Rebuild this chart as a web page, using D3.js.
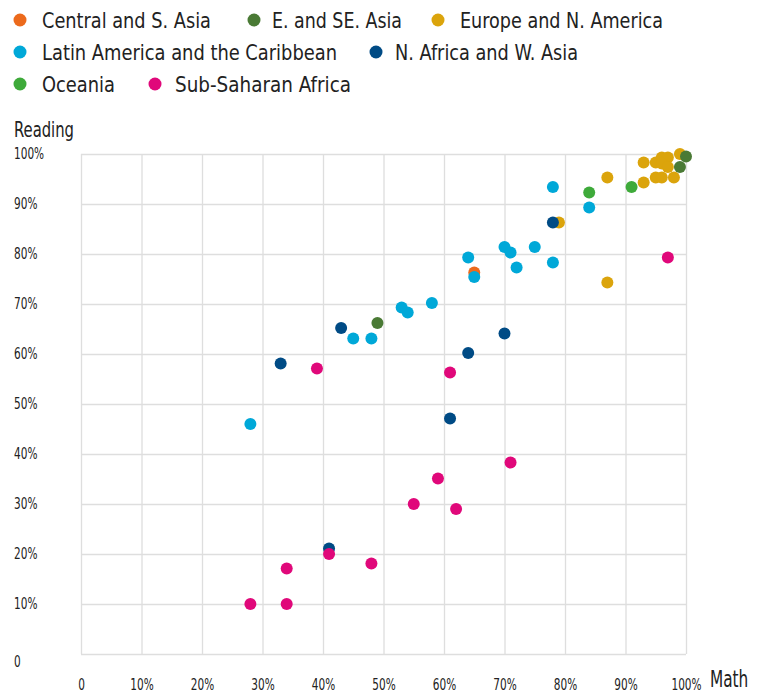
<!DOCTYPE html>
<html>
<head>
<meta charset="utf-8">
<script src="https://cdn.jsdelivr.net/npm/d3@7/dist/d3.min.js"></script>
<style>
  html, body { margin: 0; padding: 0; background: #fff; }
  svg { display: block; }
  text { font-family: "Liberation Sans Narrow", "DejaVu Sans Condensed", "Roboto", sans-serif; fill: #222; }
</style>
</head>
<body>
<svg id="chart" width="757" height="693"></svg>
<script>
// Regions, legend order and colours
const regions = [
  "Central and S. Asia", "E. and SE. Asia", "Europe and N. America",
  "Latin America and the Caribbean", "N. Africa and W. Asia",
  "Oceania", "Sub-Saharan Africa"
];
const regionColors = ["#ec6a1c", "#4a7a35", "#dba40c", "#00a8d8", "#004b85", "#3eaa3a", "#e0087a"];

// Share of students reaching minimum proficiency, [math %, reading %] per country
const centralSAsia = [[65, 76.3]];
const eastSEAsia = [[49, 66.2], [100, 99.5], [99, 97.4]];
const europeNAmerica = [
  [79, 86.3], [87, 95.3], [87, 74.3], [93, 98.3], [93, 94.3], [95, 98.3], [96, 99.3],
  [97, 99.3], [96, 98.1], [97, 97.4], [95, 95.3], [96, 95.3], [98, 95.3], [99, 100]
];
const latinAmerica = [
  [28, 46], [45, 63.1], [48, 63.1], [53, 69.3], [54, 68.3], [58, 70.2], [64, 79.3],
  [65, 75.4], [70, 81.4], [71, 80.3], [72, 77.3], [75, 81.4], [78, 78.3], [78, 93.4], [84, 89.3]
];
const nAfricaWAsia = [[33, 58.1], [43, 65.2], [64, 60.2], [70, 64.1], [61, 47.1], [41, 21.1], [78, 86.3]];
const oceania = [[84, 92.3], [91, 93.4]];
const subSaharanAfrica = [
  [28, 10], [34, 10], [34, 17.1], [41, 20], [48, 18.1], [55, 30], [59, 35.1],
  [62, 29], [71, 38.3], [39, 57.1], [61, 56.3], [97, 79.3]
];

const seriesByRegion = [centralSAsia, eastSEAsia, europeNAmerica, latinAmerica, nAfricaWAsia, oceania, subSaharanAfrica];
// Painting order (later on top)
const drawOrder = [2, 0, 1, 3, 4, 5, 6];

const tickValues = [0, 10, 20, 30, 40, 50, 60, 70, 80, 90, 100];
const tickLabel = v => v === 0 ? "0" : v + "%";

const svg = d3.select("#chart");
const plot = { left: 81, right: 686, top: 154, bottom: 654 };

const x = d3.scaleLinear().domain([0, 100]).range([plot.left, plot.right]);
const y = d3.scaleLinear().domain([0, 100]).range([plot.bottom, plot.top]);

// Squeeze a text element horizontally to mimic a condensed face
function condense(sel, factor) {
  sel.each(function () {
    const w = this.getComputedTextLength();
    d3.select(this).attr("textLength", w * factor).attr("lengthAdjust", "spacingAndGlyphs");
  });
}

// Vertical gridlines + x tick labels
const xAxis = svg.append("g")
  .attr("transform", `translate(0,${plot.bottom})`)
  .call(d3.axisBottom(x).tickValues(tickValues).tickFormat(tickLabel)
    .tickSize(-(plot.bottom - plot.top)).tickPadding(25));
xAxis.select(".domain").remove();
xAxis.selectAll("line").attr("stroke", "#dedede").attr("stroke-width", 1.3);
xAxis.selectAll("text").style("font-size", "15px").attr("fill", "#222").call(condense, 0.78);

// Horizontal gridlines + y tick labels
const yAxis = svg.append("g")
  .attr("transform", `translate(${plot.left},0)`)
  .call(d3.axisLeft(y).tickValues(tickValues).tickFormat(tickLabel)
    .tickSize(-(plot.right - plot.left)).tickPadding(0));
yAxis.select(".domain").remove();
yAxis.selectAll("line").attr("stroke", "#dedede").attr("stroke-width", 1.3);
yAxis.selectAll("text")
  .attr("text-anchor", "start")
  .attr("x", 14 - plot.left)
  .attr("dy", d => d === 0 ? "0.85em" : "0.32em")
  .style("font-size", "15px").attr("fill", "#222").call(condense, 0.78);

// Axis titles
svg.append("text").attr("x", 14).attr("y", 137).style("font-size", "22px")
  .attr("textLength", 60).attr("lengthAdjust", "spacingAndGlyphs").text("Reading");
svg.append("text")
  .attr("transform", "translate(710,687) scale(0.74,1)")
  .style("font-size", "23px").text("Math");

// Points
const pts = svg.append("g");
drawOrder.forEach(ri => {
  pts.selectAll(null)
    .data(seriesByRegion[ri])
    .enter().append("circle")
    .attr("cx", d => x(d[0]))
    .attr("cy", d => y(d[1]))
    .attr("r", 6)
    .attr("fill", regionColors[ri]);
});

// Legend: dot centre, text start, text width, row centre
const legendDotX = [20, 254, 438, 20, 376, 20, 155];
const legendTextX = [42, 272, 460, 42, 395, 42, 175];
const legendTextW = [169, 130, 203, 295, 183, 73, 176];
const legendRowY = [20, 20, 20, 52, 52, 84, 84];
const legend = svg.append("g");
regions.forEach((name, i) => {
  legend.append("circle").attr("cx", legendDotX[i]).attr("cy", legendRowY[i]).attr("r", 6.5)
    .attr("fill", regionColors[i]);
  legend.append("text").attr("x", legendTextX[i]).attr("y", legendRowY[i] + 8)
    .style("font-size", "22px")
    .attr("textLength", legendTextW[i]).attr("lengthAdjust", "spacingAndGlyphs")
    .text(name);
});
</script>
</body>
</html>
